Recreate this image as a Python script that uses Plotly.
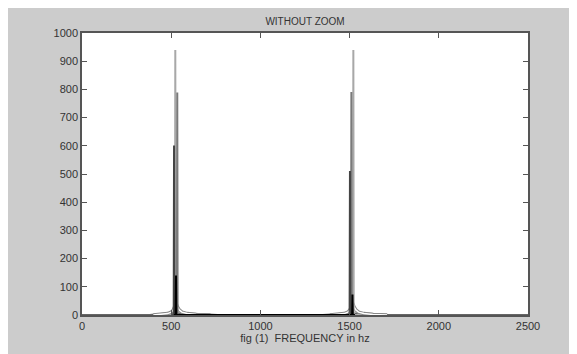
import plotly.graph_objects as go

# ---- data ----
title_text = "WITHOUT ZOOM"
x_title = "fig (1)  FREQUENCY in hz"
x_ticks = [0, 500, 1000, 1500, 2000, 2500]
y_ticks = [0, 100, 200, 300, 400, 500, 600, 700, 800, 900, 1000]

# baseline spectrum (low level, slightly raised around the peaks)
base_f = [0, 380, 420, 470, 600, 700, 760, 1000, 1350, 1420, 1460, 1600, 1660, 1720, 2050, 2500]
base_v = [0, 0, 3, 5, 5, 3, 0, 0, 0, 3, 5, 5, 3, 0, 0, 0]

# tallest peak line (light gray)
p1_f = [500, 521, 523, 525, 1500, 1519, 1521, 1523, 1540]
p1_v = [0, 0, 940, 0, 0, 0, 940, 0, 0]

# second line (mid gray)
p2_f = [520, 532, 534, 536, 1500, 1508, 1510, 1512, 1530]
p2_v = [0, 0, 789, 0, 0, 0, 791, 0, 0]

# third line (dark gray)
p3_f = [505, 514, 516, 518, 1490, 1500, 1502, 1504, 1520]
p3_v = [0, 0, 601, 0, 0, 0, 511, 0, 0]

# short black line
p4_f = [515, 525, 527, 529, 1505, 1514, 1516, 1518, 1530]
p4_v = [0, 0, 140, 0, 0, 0, 73, 0, 0]

# broad hump around each peak
h_f = [400, 450, 480, 500, 512, 520, 527, 534, 545, 560, 590, 640, 720]
h_v = [0, 2, 5, 10, 18, 30, 42, 30, 18, 10, 5, 2, 0]
h2_f = [1390, 1440, 1470, 1490, 1502, 1510, 1517, 1524, 1535, 1550, 1580, 1630, 1710]
h2_v = [0, 2, 5, 10, 18, 30, 42, 30, 18, 10, 5, 2, 0]

fig = go.Figure()
fig.add_trace(go.Scatter(x=base_f, y=base_v, mode="lines",
                         line=dict(color="#666666", width=2)))
fig.add_trace(go.Scatter(x=h_f, y=h_v, mode="lines",
                         line=dict(color="#888888", width=3.5)))
fig.add_trace(go.Scatter(x=h2_f, y=h2_v, mode="lines",
                         line=dict(color="#888888", width=3.5)))
fig.add_trace(go.Scatter(x=h_f, y=h_v, mode="lines",
                         line=dict(color="#ffffff", width=1.5)))
fig.add_trace(go.Scatter(x=h2_f, y=h2_v, mode="lines",
                         line=dict(color="#ffffff", width=1.5)))
fig.add_trace(go.Scatter(x=p1_f, y=p1_v, mode="lines",
                         line=dict(color="#a8a8a8", width=2)))
fig.add_trace(go.Scatter(x=p2_f, y=p2_v, mode="lines",
                         line=dict(color="#7a7a7a", width=2)))
fig.add_trace(go.Scatter(x=p3_f, y=p3_v, mode="lines",
                         line=dict(color="#444444", width=2)))
fig.add_trace(go.Scatter(x=p4_f, y=p4_v, mode="lines",
                         line=dict(color="#000000", width=2)))

W, H = 569, 346
L, T = 74, 25
pw, ph = 446, 286
R, B = W - L - pw, H - T - ph

axis_common = dict(showgrid=False, zeroline=False, showline=True,
                   linecolor="#555555", linewidth=1.5, mirror="ticks",
                   ticks="inside", ticklen=5, tickcolor="#555555", tickwidth=1,
                   tickfont=dict(family="Liberation Sans, Arial", size=11, color="#333333"))

fig.update_layout(
    width=W, height=H,
    margin=dict(l=L, r=R, t=T, b=B),
    paper_bgcolor="#cccccc",
    plot_bgcolor="#ffffff",
    showlegend=False,
    title=dict(text=title_text, x=297 / W, xanchor="center",
               y=1 - 13 / H, yanchor="middle",
               font=dict(family="Liberation Sans, Arial", size=10, color="#333333")),
    xaxis=dict(range=[0, 2500], tickvals=x_ticks, ticktext=[str(v) for v in x_ticks],
               title=dict(text=x_title, standoff=2,
                          font=dict(family="Liberation Sans, Arial", size=11, color="#333333")),
               **axis_common),
    yaxis=dict(range=[0, 1000], tickvals=y_ticks, ticktext=[str(v) for v in y_ticks],
               **axis_common),
)

fig.write_html("out.html")
